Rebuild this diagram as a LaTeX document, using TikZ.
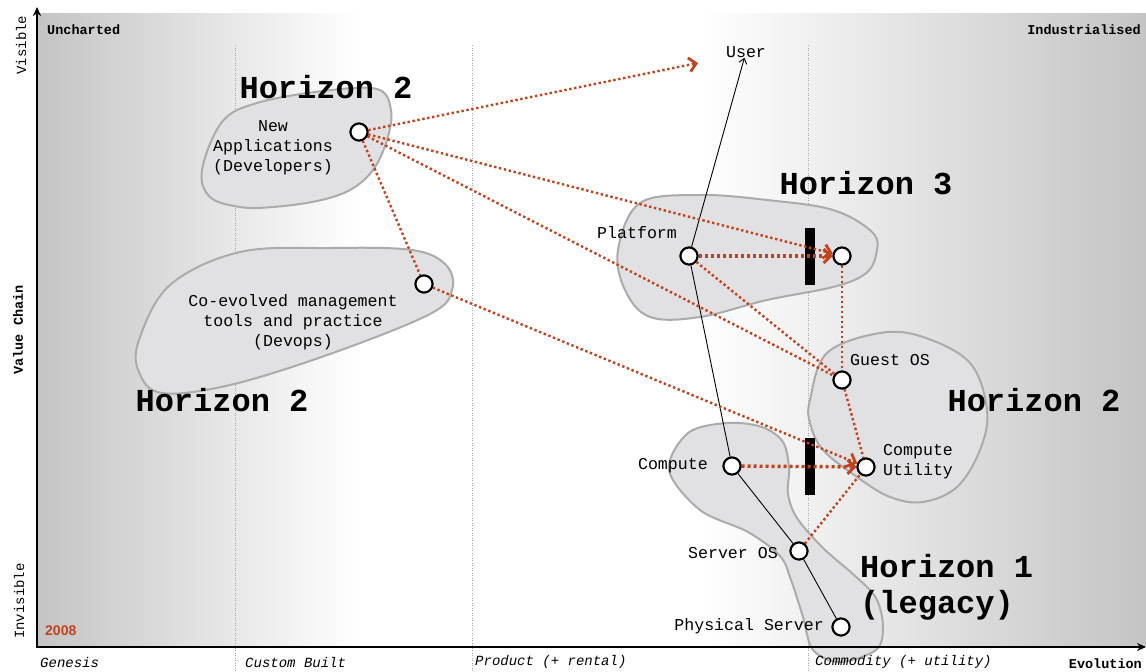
\documentclass[tikz,border=0pt]{standalone}
\usepackage{fontspec}
\usetikzlibrary{arrows.meta}
\newfontfamily\monof{Liberation Mono}
\newfontfamily\sansf{Liberation Sans}
\definecolor{org}{HTML}{C1431C}
\definecolor{blobfill}{HTML}{E1E1E3}
\definecolor{blobline}{HTML}{ABABAB}
\definecolor{shade}{HTML}{C4C4C4}
\tikzset{
  lbl/.style={font=\monof\fontsize{16.6}{20}\selectfont, inner sep=0pt, align=center},
  hz/.style={font=\monof\bfseries\fontsize{32}{38}\selectfont, inner sep=0pt},
  axlbl/.style={font=\monof\itshape\fontsize{14}{16}\selectfont, inner sep=0pt},
  bdlbl/.style={font=\monof\bfseries\fontsize{13.5}{16}\selectfont, inner sep=0pt},
  pt/.style={circle, draw=black, line width=2pt, fill=white, minimum size=17pt, inner sep=0pt},
  flow/.style={draw=org, line width=2.4pt, dash pattern=on 2.4pt off 2.6pt},
  bigflow/.style={draw=org, line width=3.4pt, dash pattern=on 3pt off 3pt},
  otip/.style={-{Straight Barb[length=7pt,width=14pt,line width=2.8pt]}},
  blob/.style={fill=blobfill, draw=blobline, line width=2pt},
  guide/.style={draw=gray!70, line width=0.6pt, dash pattern=on 1pt off 1.5pt},
  chain/.style={draw=black, line width=0.9pt},
  bar/.style={fill=black, draw=none}
}
\begin{document}
\begin{tikzpicture}[x=1pt,y=-1pt]
\useasboundingbox (0,0) rectangle (1146,672);
% background gradients
\shade[left color=shade, right color=white] (37,13) rectangle (360,646);
\shade[left color=white, right color=shade] (700,13) rectangle (1146,646);
% guides
\draw[guide] (235,45) -- (235,672);
\draw[guide] (472,45) -- (472,672);
\draw[guide] (808,45) -- (808,672);
% blobs
\draw[blob] plot[smooth cycle, tension=0.6] coordinates {(202,170) (222,122) (257,103) (323,91) (377,89) (391,110) (387,140) (373,170) (350,190) (317,201) (273,207) (240,207) (210,197)};
\draw[blob] plot[smooth cycle, tension=0.6] coordinates {(139,340) (170,285) (240,252) (330,248) (412,250) (446,265) (452,290) (430,314) (330,354) (230,385) (162,393) (139,372)};
\draw[blob] plot[smooth cycle, tension=0.6] coordinates {(618,250) (640,203) (700,195) (767,200) (833,210) (873,233) (876,255) (865,274) (833,287) (767,300) (700,317) (650,317) (625,290)};
\draw[blob] plot[smooth cycle, tension=0.6] coordinates {(810,400) (827,353) (880,333) (923,337) (970,363) (987,410) (980,450) (957,487) (923,502) (890,497) (857,477) (823,450) (810,423)};
\draw[blob] plot[smooth cycle, tension=0.55] coordinates {(669,470) (688,433) (727,423) (762,427) (783,442) (789,468) (788,494) (797,518) (823,548) (854,575) (876,598) (883,627) (876,650) (840,662) (813,650) (803,617) (791,580) (780,556) (748,532) (700,510)};
% axes
\draw[line width=2.6pt, -{Stealth[length=9pt,width=8pt]}] (37,647) -- (37,7);
\draw[line width=2.6pt, -{Stealth[length=9pt,width=8pt]}] (36,647) -- (1146,647);
% axis labels
\node[bdlbl, anchor=west] (unch) at (47,30) {Uncharted};
\node[bdlbl, anchor=east] (ind) at (1141,30) {Industrialised};
\node[axlbl, anchor=west] (gen) at (40,662) {Genesis};
\node[axlbl, anchor=west] (cb) at (245,662) {Custom Built};
\node[axlbl, anchor=west] (prod) at (475,662) {Product (+ rental)};
\node[axlbl, anchor=west] (comm) at (815,662) {Commodity (+ utility)};
\node[bdlbl, anchor=east] (evo) at (1142,664) {Evolution};
\node[font=\monof\fontsize{14}{16}\selectfont, inner sep=0pt, rotate=90] (vis) at (21,45) {Visible};
\node[bdlbl, rotate=90] (vc) at (18,330) {Value Chain};
\node[font=\monof\fontsize{14}{16}\selectfont, inner sep=0pt, rotate=90] (invis) at (19,601) {Invisible};
\node[font=\sansf\bfseries\fontsize{14}{16}\selectfont, text=org, inner sep=0pt, anchor=west] (yr) at (45,631) {2008};
% bars
\node[bar, minimum width=10pt, minimum height=57pt, inner sep=0pt] (bar1) at (810,256.5) {};
\node[bar, minimum width=10pt, minimum height=57pt, inner sep=0pt] (bar2) at (810,466.5) {};
% horizon labels
\node[hz] (h2a) at (326,87) {Horizon 2};
\node[hz] (h3) at (866,183) {Horizon 3};
\node[hz] (h2b) at (222,400) {Horizon 2};
\node[hz] (h2c) at (1034,400) {Horizon 2};
\node[hz, anchor=west] (h1) at (860,566) {Horizon 1};
\node[hz, anchor=west] (leg) at (860,605) {(legacy)};
% text labels
\node[lbl] (user) at (746,52) {User};
\node[lbl] (tapp) at (273,148) {New\\Applications\\(Developers)};
\node[lbl] (tdev) at (293,322) {Co-evolved management\\tools and practice\\(Devops)};
\node[lbl, anchor=west] (tplat) at (597,233) {Platform};
\node[lbl, anchor=west] (tguest) at (850,360) {Guest OS};
\node[lbl, anchor=west, align=left] (tcu) at (883,462) {Compute\\Utility};
\node[lbl, anchor=east] (tcomp) at (708,466) {Compute};
\node[lbl, anchor=east] (tsos) at (778,553) {Server OS};
\node[lbl, anchor=east] (tphys) at (824,626) {Physical Server};
% points
\coordinate (utgt) at (698,63);
\node[pt] (app) at (359,132) {};
\node[pt] (dev) at (424,284) {};
\node[pt] (plat) at (689,256) {};
\node[pt] (putil) at (842,256) {};
\node[pt] (guest) at (842,380) {};
\node[pt] (comp) at (732,466) {};
\node[pt] (cu) at (866,467) {};
\node[pt] (sos) at (799,551) {};
\node[pt] (phys) at (841,627) {};
% value chain
\draw[chain] (phys) -- (sos);
\draw[chain] (sos) -- (comp);
\draw[chain] (comp) -- (plat);
\draw[chain, -{Straight Barb[length=5pt,width=8pt]}] (plat) -- (user);
% flows
\draw[flow, otip] (app) -- (utgt);
\draw[flow, otip] (app) -- (putil);
\draw[flow] (app) -- (guest);
\draw[flow] (app) -- (dev);
\draw[flow, otip] (dev) -- (cu);
\draw[flow] (plat) -- (guest);
\draw[flow] (putil) -- (guest);
\draw[flow] (guest) -- (cu);
\draw[flow] (sos) -- (cu);
\draw[bigflow, otip] (plat) -- (putil);
\draw[bigflow, otip] (comp) -- (cu);
% redraw points on top
\foreach \n in {app,dev,plat,putil,guest,comp,cu,sos,phys} {\node[pt] at (\n) {};}
\end{tikzpicture}
\end{document}
